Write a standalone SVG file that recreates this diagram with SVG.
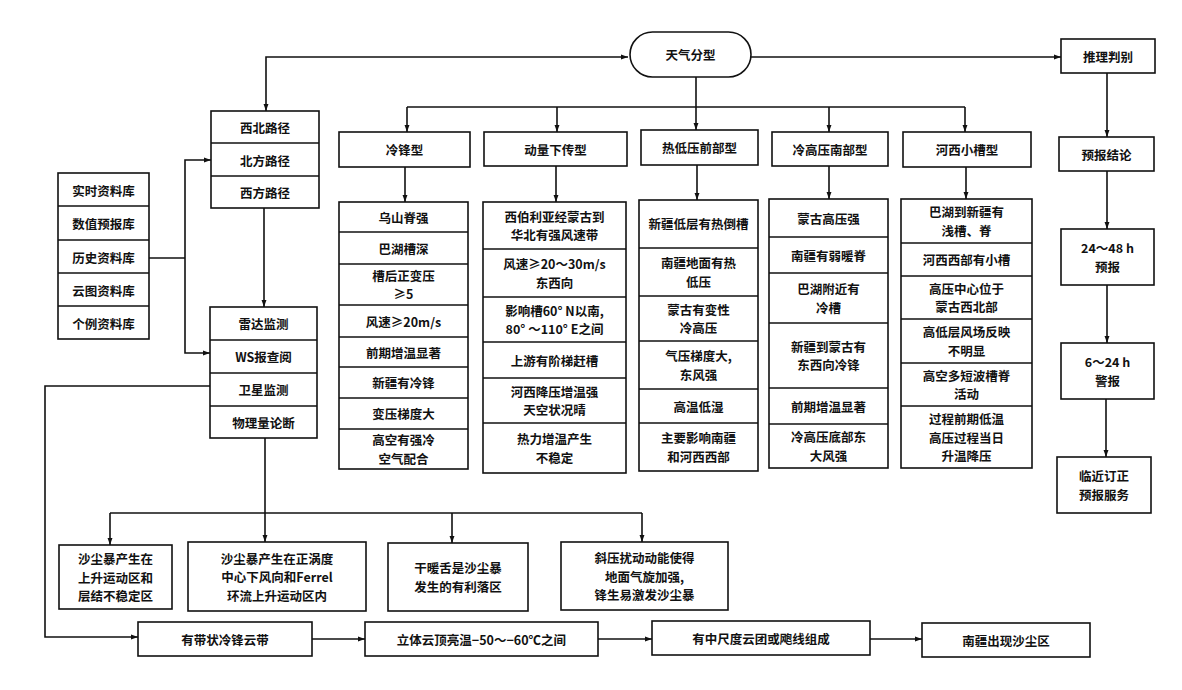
<svg xmlns="http://www.w3.org/2000/svg" width="1182" height="690" viewBox="0 0 1182 690">
<defs>
<marker id="ah" viewBox="0 0 10 10" refX="10" refY="5" markerWidth="7" markerHeight="7" markerUnits="userSpaceOnUse" orient="auto-start-reverse">
<path d="M0,1.5 L10,5 L0,8.5 Z" fill="#111"/>
</marker>
<style>
rect,.box{fill:#fff;stroke:#111;stroke-width:1.6}
.sep{stroke:#111;stroke-width:1.4}
.c{fill:none;stroke:#111;stroke-width:1.6}
.a{fill:none;stroke:#111;stroke-width:1.6;marker-end:url(#ah)}
text{font-family:"Noto Sans CJK SC","Liberation Sans",sans-serif;font-size:12.5px;font-weight:bold;fill:#111;text-anchor:middle;dominant-baseline:central}
</style>
</defs>
<rect x="0" y="0" width="1182" height="690" style="fill:#fff;stroke:none"/>

<g id="connectors">
<path class="a" d="M628,57 H266 V111" style="marker-start:url(#ah)"/>
<path class="a" d="M751,57 H1061"/>
<path class="a" d="M696,77 V130"/>
<path class="c" d="M407,107 H965"/>
<path class="a" d="M407,107 V132"/>
<path class="a" d="M557,107 V132"/>
<path class="a" d="M829,107 V132"/>
<path class="a" d="M965,107 V132"/>
<path class="a" d="M405,167 V202"/>
<path class="a" d="M556,166 V202"/>
<path class="a" d="M697,165 V200"/>
<path class="a" d="M829,166 V199"/>
<path class="a" d="M966,167 V199"/>
<path class="a" d="M1107,73 V137"/>
<path class="a" d="M1107,171 V229"/>
<path class="a" d="M1107,285 V343"/>
<path class="a" d="M1106,399 V457"/>
<path class="c" d="M149,258 H185"/>
<path class="a" d="M211,160 H185 V353 H210" style="marker-start:url(#ah)"/>
<path class="a" d="M264,208 V307"/>
<path class="a" d="M210,386 H45 V637 H138"/>
<path class="a" d="M265,438 V542"/>
<path class="c" d="M110,513 H642"/>
<path class="a" d="M110,513 V545"/>
<path class="a" d="M452,513 V543"/>
<path class="a" d="M642,513 V542"/>
<path class="a" d="M312,639 H365"/>
<path class="a" d="M598,639 H652"/>
<path class="a" d="M870,639 H922"/>
</g>

<g id="databases">
<rect x="58" y="173" width="91" height="166"/>
<line class="sep" x1="58" y1="206" x2="149" y2="206"/>
<line class="sep" x1="58" y1="240" x2="149" y2="240"/>
<line class="sep" x1="58" y1="273" x2="149" y2="273"/>
<line class="sep" x1="58" y1="306" x2="149" y2="306"/>
<text x="103.5" y="190">实时资料库</text>
<text x="103.5" y="223">数值预报库</text>
<text x="103.5" y="257">历史资料库</text>
<text x="103.5" y="290">云图资料库</text>
<text x="103.5" y="323">个例资料库</text>
</g>

<g id="routes">
<rect x="211" y="111" width="108" height="97"/>
<line class="sep" x1="211" y1="143" x2="319" y2="143"/>
<line class="sep" x1="211" y1="176" x2="319" y2="176"/>
<text x="265" y="127">西北路径</text>
<text x="265" y="160">北方路径</text>
<text x="265" y="192">西方路径</text>
</g>

<g id="monitoring">
<rect x="210" y="307" width="107" height="131"/>
<line class="sep" x1="210" y1="340" x2="317" y2="340"/>
<line class="sep" x1="210" y1="373" x2="317" y2="373"/>
<line class="sep" x1="210" y1="406" x2="317" y2="406"/>
<text x="263.5" y="323.5">雷达监测</text>
<text x="263.5" y="356.5">WS报查阅</text>
<text x="263.5" y="389.5">卫星监测</text>
<text x="263.5" y="422">物理量论断</text>
</g>

<g id="weather-type">
<rect x="630" y="32" width="121" height="45" rx="22.5" ry="22.5"/>
<text x="690.5" y="54.5">天气分型</text>
</g>

<g id="reasoning">
<rect x="1061" y="39" width="94" height="34"/>
<text x="1108" y="56">推理判别</text>
</g>
<g id="conclusion">
<rect x="1059" y="137" width="95" height="34"/>
<text x="1106.5" y="154">预报结论</text>
</g>
<g id="forecast-24-48">
<rect x="1061" y="229" width="93" height="56"/>
<text x="1107.5" y="247.75">24～48 h</text>
<text x="1107.5" y="266.25">预报</text>
</g>
<g id="warning-6-24">
<rect x="1061" y="343" width="93" height="56"/>
<text x="1107.5" y="361.75">6～24 h</text>
<text x="1107.5" y="380.25">警报</text>
</g>
<g id="nowcast">
<rect x="1057" y="457" width="94" height="56"/>
<text x="1104" y="475.75">临近订正</text>
<text x="1104" y="494.25">预报服务</text>
</g>

<g id="type-cold-front">
<rect x="339" y="132" width="131" height="35"/>
<text x="404.5" y="149.5">冷锋型</text>
</g>
<g id="type-momentum">
<rect x="484" y="132" width="143" height="34"/>
<text x="555.5" y="149">动量下传型</text>
</g>
<g id="type-thermal-low">
<rect x="641" y="130" width="117" height="35"/>
<text x="699.5" y="147.5">热低压前部型</text>
</g>
<g id="type-cold-high">
<rect x="772" y="132" width="116" height="34"/>
<text x="830" y="149">冷高压南部型</text>
</g>
<g id="type-hexi-trough">
<rect x="903" y="132" width="128" height="35"/>
<text x="967" y="149.5">河西小槽型</text>
</g>

<g id="col-cold-front">
<rect x="339" y="202" width="129" height="267"/>
<line class="sep" x1="339" y1="232" x2="468" y2="232"/>
<line class="sep" x1="339" y1="264" x2="468" y2="264"/>
<line class="sep" x1="339" y1="305" x2="468" y2="305"/>
<line class="sep" x1="339" y1="337" x2="468" y2="337"/>
<line class="sep" x1="339" y1="367" x2="468" y2="367"/>
<line class="sep" x1="339" y1="398" x2="468" y2="398"/>
<line class="sep" x1="339" y1="429" x2="468" y2="429"/>
<text x="403.5" y="217">乌山脊强</text>
<text x="403.5" y="248">巴湖槽深</text>
<text x="403.5" y="275.25">槽后正变压</text>
<text x="403.5" y="293.75">≥5</text>
<text x="403.5" y="321">风速≥20m/s</text>
<text x="403.5" y="352">前期增温显著</text>
<text x="403.5" y="382.5">新疆有冷锋</text>
<text x="403.5" y="413.5">变压梯度大</text>
<text x="403.5" y="439.75">高空有强冷</text>
<text x="403.5" y="458.25">空气配合</text>
</g>

<g id="col-momentum">
<rect x="483" y="202" width="143" height="271"/>
<line class="sep" x1="483" y1="249" x2="626" y2="249"/>
<line class="sep" x1="483" y1="297" x2="626" y2="297"/>
<line class="sep" x1="483" y1="342" x2="626" y2="342"/>
<line class="sep" x1="483" y1="378" x2="626" y2="378"/>
<line class="sep" x1="483" y1="423" x2="626" y2="423"/>
<text x="554.5" y="216.25">西伯利亚经蒙古到</text>
<text x="554.5" y="234.75">华北有强风速带</text>
<text x="554.5" y="263.75">风速≥20～30m/s</text>
<text x="554.5" y="282.25">东西向</text>
<text x="554.5" y="310.25">影响槽60° N以南,</text>
<text x="554.5" y="328.75">80° ～110° E之间</text>
<text x="554.5" y="360">上游有阶梯赶槽</text>
<text x="554.5" y="391.25">河西降压增温强</text>
<text x="554.5" y="409.75">天空状况晴</text>
<text x="554.5" y="438.75">热力增温产生</text>
<text x="554.5" y="457.25">不稳定</text>
</g>

<g id="col-thermal-low">
<rect x="639" y="200" width="119" height="271"/>
<line class="sep" x1="639" y1="248" x2="758" y2="248"/>
<line class="sep" x1="639" y1="296" x2="758" y2="296"/>
<line class="sep" x1="639" y1="341" x2="758" y2="341"/>
<line class="sep" x1="639" y1="389" x2="758" y2="389"/>
<line class="sep" x1="639" y1="423" x2="758" y2="423"/>
<text x="698.5" y="223">新疆低层有热倒槽</text>
<text x="698.5" y="262.75">南疆地面有热</text>
<text x="698.5" y="281.25">低压</text>
<text x="698.5" y="309.25">蒙古有变性</text>
<text x="698.5" y="327.75">冷高压</text>
<text x="698.5" y="355.75">气压梯度大,</text>
<text x="698.5" y="374.25">东风强</text>
<text x="698.5" y="406">高温低湿</text>
<text x="698.5" y="437.75">主要影响南疆</text>
<text x="698.5" y="456.25">和河西西部</text>
</g>

<g id="col-cold-high">
<rect x="769" y="199" width="119" height="269"/>
<line class="sep" x1="769" y1="237" x2="888" y2="237"/>
<line class="sep" x1="769" y1="273" x2="888" y2="273"/>
<line class="sep" x1="769" y1="323" x2="888" y2="323"/>
<line class="sep" x1="769" y1="388" x2="888" y2="388"/>
<line class="sep" x1="769" y1="424" x2="888" y2="424"/>
<text x="828.5" y="218">蒙古高压强</text>
<text x="828.5" y="255">南疆有弱暖脊</text>
<text x="828.5" y="288.75">巴湖附近有</text>
<text x="828.5" y="307.25">冷槽</text>
<text x="828.5" y="346.25">新疆到蒙古有</text>
<text x="828.5" y="364.75">东西向冷锋</text>
<text x="828.5" y="406">前期增温显著</text>
<text x="828.5" y="436.75">冷高压底部东</text>
<text x="828.5" y="455.25">大风强</text>
</g>

<g id="col-hexi-trough">
<rect x="901" y="199" width="131" height="269"/>
<line class="sep" x1="901" y1="243" x2="1032" y2="243"/>
<line class="sep" x1="901" y1="276" x2="1032" y2="276"/>
<line class="sep" x1="901" y1="319" x2="1032" y2="319"/>
<line class="sep" x1="901" y1="363" x2="1032" y2="363"/>
<line class="sep" x1="901" y1="406" x2="1032" y2="406"/>
<text x="966.5" y="211.75">巴湖到新疆有</text>
<text x="966.5" y="230.25">浅槽、脊</text>
<text x="966.5" y="259.5">河西西部有小槽</text>
<text x="966.5" y="288.25">高压中心位于</text>
<text x="966.5" y="306.75">蒙古西北部</text>
<text x="966.5" y="331.75">高低层风场反映</text>
<text x="966.5" y="350.25">不明显</text>
<text x="966.5" y="375.25">高空多短波槽脊</text>
<text x="966.5" y="393.75">活动</text>
<text x="966.5" y="418.5">过程前期低温</text>
<text x="966.5" y="437">高压过程当日</text>
<text x="966.5" y="455.5">升温降压</text>
</g>

<g id="result-updraft">
<rect x="59" y="545" width="113" height="64"/>
<text x="115.5" y="558.5">沙尘暴产生在</text>
<text x="115.5" y="577">上升运动区和</text>
<text x="115.5" y="595.5">层结不稳定区</text>
</g>
<g id="result-vorticity">
<rect x="188" y="542" width="178" height="69"/>
<text x="277" y="558">沙尘暴产生在正涡度</text>
<text x="277" y="576.5">中心下风向和Ferrel</text>
<text x="277" y="595">环流上升运动区内</text>
</g>
<g id="result-warm-tongue">
<rect x="388" y="543" width="140" height="68"/>
<text x="458" y="567.75">干暖舌是沙尘暴</text>
<text x="458" y="586.25">发生的有利落区</text>
</g>
<g id="result-baroclinic">
<rect x="561" y="542" width="167" height="68"/>
<text x="644.5" y="557.5">斜压扰动动能使得</text>
<text x="644.5" y="576">地面气旋加强,</text>
<text x="644.5" y="594.5">锋生易激发沙尘暴</text>
</g>

<g id="cloud-band">
<rect x="138" y="622" width="174" height="34"/>
<text x="225" y="639">有带状冷锋云带</text>
</g>
<g id="cloud-top">
<rect x="365" y="622" width="233" height="34"/>
<text x="481.5" y="639">立体云顶亮温−50～−60℃之间</text>
</g>
<g id="mesoscale">
<rect x="652" y="621" width="218" height="34"/>
<text x="761" y="638">有中尺度云团或飑线组成</text>
</g>
<g id="dust-area">
<rect x="922" y="623" width="168" height="34"/>
<text x="1006" y="640">南疆出现沙尘区</text>
</g>
</svg>
